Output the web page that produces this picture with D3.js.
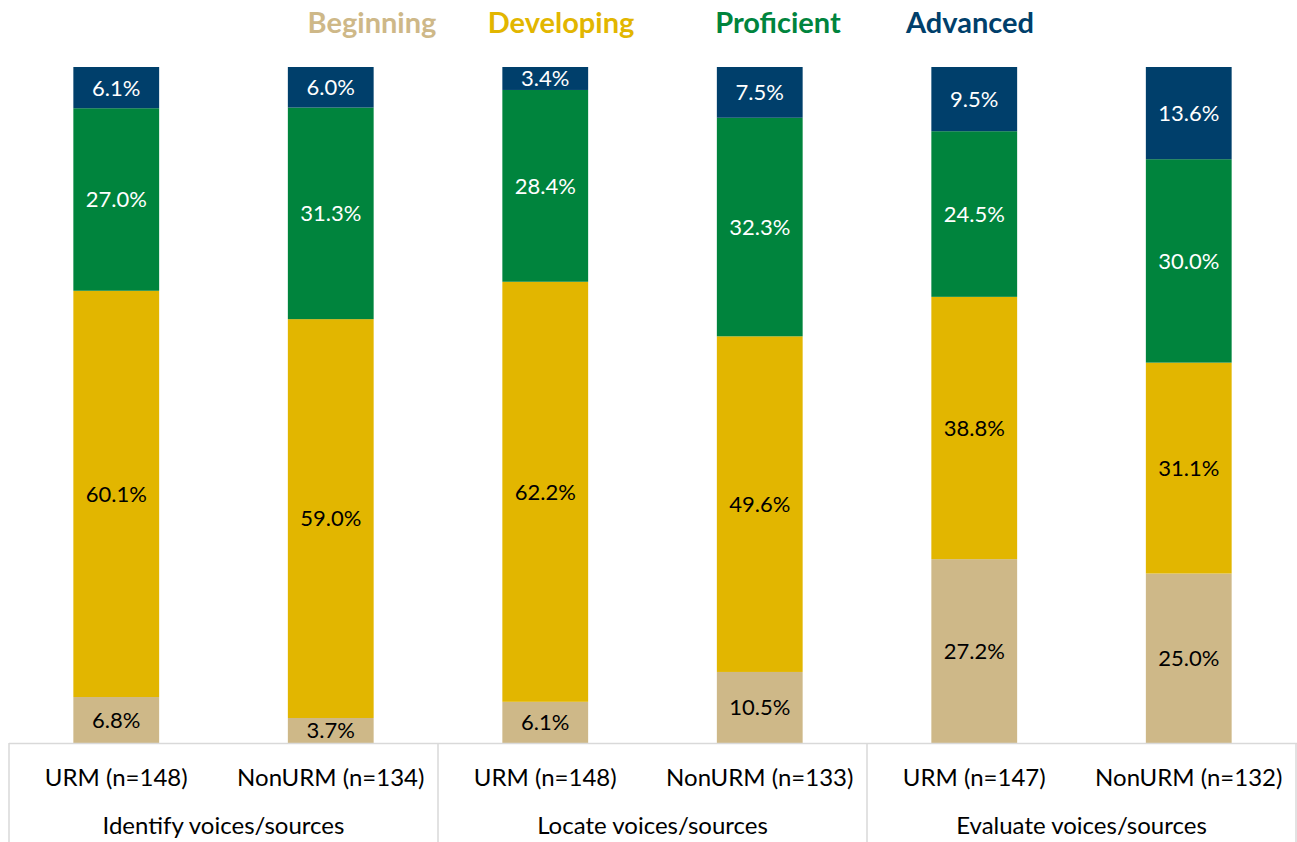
<!DOCTYPE html>
<html><head><meta charset="utf-8">
<script src="https://cdn.jsdelivr.net/npm/d3@7"></script>
<style>body{margin:0;background:#fff;} svg{display:block;}</style>
</head><body>
<svg id="c" width="1297" height="842"></svg>
<script>
const groups = ["Identify voices/sources","Locate voices/sources","Evaluate voices/sources"];
const subgroups = ["URM (n=148)","NonURM (n=134)","URM (n=148)","NonURM (n=133)","URM (n=147)","NonURM (n=132)"];
const levels = ["Beginning","Developing","Proficient","Advanced"];
const beginning  = [6.8, 3.7, 6.1, 10.5, 27.2, 25.0];
const developing = [60.1, 59.0, 62.2, 49.6, 38.8, 31.1];
const proficient = [27.0, 31.3, 28.4, 32.3, 24.5, 30.0];
const advanced   = [6.1, 6.0, 3.4, 7.5, 9.5, 13.6];
const colors = ["#CEB888","#E2B600","#00843D","#003F6B"];
const labelColors = ["#000","#000","#fff","#fff"];

(function(){
const series = [beginning,developing,proficient,advanced];
const rows = subgroups.map((s,i)=>({i, Beginning:beginning[i], Developing:developing[i], Proficient:proficient[i], Advanced:advanced[i]}));
const stack = d3.stack().keys(levels).offset(d3.stackOffsetExpand)(rows);

const svg = d3.select("#c");
const pl = 9, pr = 1296, pt = 67, base = 743;
const x = d3.scaleBand().domain(d3.range(6)).range([pl,pr]).paddingInner(0.6).paddingOuter(0.3);
const y = d3.scaleLinear().domain([0,1]).range([base,pt]);
const font = "'Gill Sans','Gill Sans MT','Lato','Open Sans',sans-serif";

const layer = svg.selectAll("g.layer").data(stack).join("g").attr("class","layer").attr("fill",(d,i)=>colors[i]);
layer.selectAll("rect").data(d=>d).join("rect")
  .attr("x",(d,j)=>x(j)).attr("width",x.bandwidth())
  .attr("y",d=>y(d[1])).attr("height",d=>y(d[0])-y(d[1]));

stack.forEach((s,k)=>{
  svg.append("g").selectAll("text").data(s).join("text")
    .attr("x",(d,j)=>x(j)+x.bandwidth()/2)
    .attr("y",d=>(y(d[0])+y(d[1]))/2)
    .attr("dy","0.36em")
    .attr("text-anchor","middle")
    .attr("font-family",font).attr("font-size",22)
    .attr("fill",labelColors[k])
    .text((d,j)=>series[k][j].toFixed(1)+"%");
});

const ax = svg.append("g");
ax.append("line").attr("x1",pl).attr("x2",1297).attr("y1",base+0.5).attr("y2",base+0.5).attr("stroke","#d9d9d9").attr("stroke-width",1.5);
const step = (pr-pl)/3;
[0,1,2,3].forEach(i=>{
  const xx = pl + i*step;
  ax.append("line").attr("x1",xx).attr("x2",xx).attr("y1",base).attr("y2",842).attr("stroke","#d9d9d9").attr("stroke-width",1.5);
});
ax.selectAll("text.sub").data(subgroups).join("text").attr("class","sub")
  .attr("x",(d,j)=>x(j)+x.bandwidth()/2).attr("y",786)
  .attr("text-anchor","middle").attr("font-family",font).attr("font-size",24).attr("fill","#000")
  .text(d=>d);
ax.selectAll("text.grp").data(groups).join("text").attr("class","grp")
  .attr("x",(d,i)=>pl+step*(i+0.5)).attr("y",834)
  .attr("text-anchor","middle").attr("font-family",font).attr("font-size",24).attr("fill","#000")
  .text(d=>d);

const legX = [372, 561, 778, 970];
svg.append("g").selectAll("text").data(levels).join("text")
  .attr("x",(d,i)=>legX[i]).attr("y",33)
  .attr("text-anchor","middle").attr("font-family",font).attr("font-weight","bold").attr("font-size",29)
  .attr("fill",(d,i)=>colors[i]).text(d=>d);
})();
</script>
</body></html>
